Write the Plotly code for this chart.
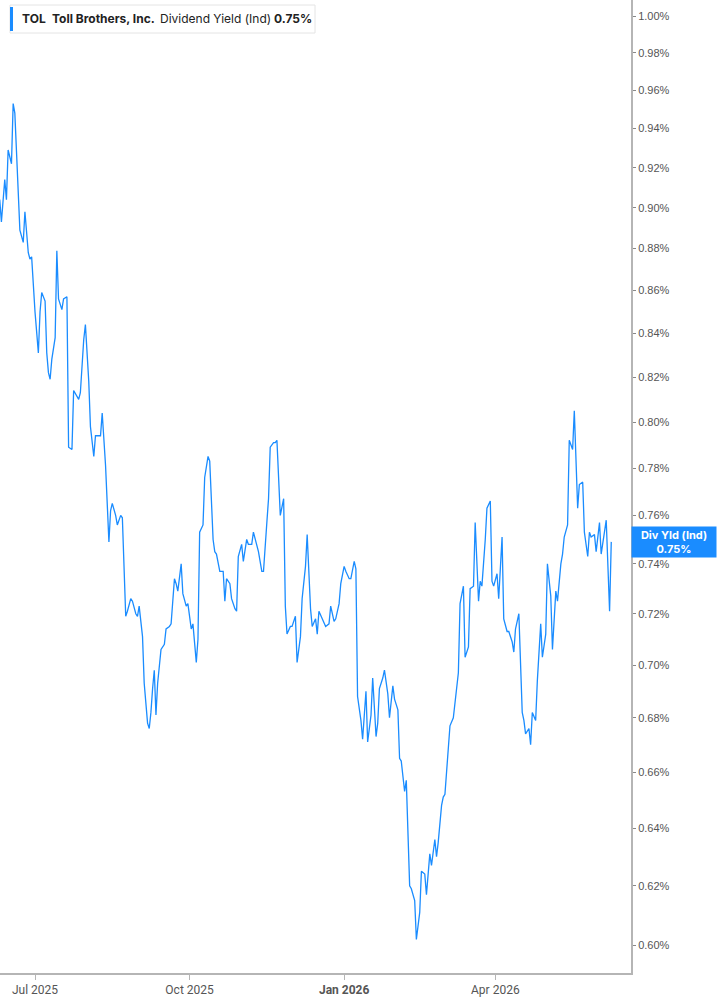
import numpy as np
import plotly.graph_objects as go

dates = [
    "2025-06-10", "2025-06-11", "2025-06-13", "2025-06-14", "2025-06-15", "2025-06-17", "2025-06-18", "2025-06-19",
    "2025-06-22", "2025-06-24", "2025-06-25", "2025-06-27", "2025-06-28", "2025-06-29",
    "2025-07-01", "2025-07-03", "2025-07-04", "2025-07-05", "2025-07-07", "2025-07-08", "2025-07-09", "2025-07-10",
    "2025-07-11", "2025-07-13", "2025-07-14", "2025-07-15", "2025-07-17", "2025-07-18", "2025-07-20", "2025-07-21",
    "2025-07-23", "2025-07-24", "2025-07-27", "2025-07-28", "2025-07-30", "2025-07-31",
    "2025-08-02", "2025-08-03", "2025-08-05", "2025-08-06", "2025-08-09", "2025-08-10", "2025-08-12", "2025-08-14",
    "2025-08-15", "2025-08-16", "2025-08-18", "2025-08-19", "2025-08-21", "2025-08-22", "2025-08-24", "2025-08-25",
    "2025-08-27", "2025-08-28", "2025-08-30", "2025-08-31",
    "2025-09-01", "2025-09-03", "2025-09-04", "2025-09-05", "2025-09-06", "2025-09-07", "2025-09-08", "2025-09-09",
    "2025-09-10", "2025-09-11", "2025-09-12", "2025-09-14", "2025-09-16", "2025-09-17", "2025-09-19", "2025-09-20",
    "2025-09-22", "2025-09-23", "2025-09-24", "2025-09-26", "2025-09-27", "2025-09-29", "2025-09-30",
    "2025-10-02", "2025-10-03", "2025-10-05", "2025-10-06", "2025-10-07", "2025-10-09", "2025-10-10", "2025-10-12",
    "2025-10-13", "2025-10-15", "2025-10-16", "2025-10-17", "2025-10-19", "2025-10-21", "2025-10-22", "2025-10-23",
    "2025-10-25", "2025-10-26", "2025-10-28", "2025-10-29", "2025-10-30",
    "2025-11-01", "2025-11-02", "2025-11-04", "2025-11-05", "2025-11-07", "2025-11-08", "2025-11-10", "2025-11-11",
    "2025-11-13", "2025-11-14", "2025-11-16", "2025-11-17", "2025-11-18", "2025-11-20", "2025-11-21", "2025-11-22",
    "2025-11-24", "2025-11-26", "2025-11-27", "2025-11-28", "2025-11-30",
    "2025-12-01", "2025-12-03", "2025-12-04", "2025-12-06", "2025-12-07", "2025-12-09", "2025-12-10", "2025-12-12",
    "2025-12-13", "2025-12-15", "2025-12-16", "2025-12-17", "2025-12-19", "2025-12-20", "2025-12-21", "2025-12-23",
    "2025-12-24", "2025-12-26", "2025-12-27", "2025-12-29", "2025-12-30",
    "2026-01-01", "2026-01-02", "2026-01-04", "2026-01-05", "2026-01-07", "2026-01-08", "2026-01-09", "2026-01-11",
    "2026-01-12", "2026-01-14", "2026-01-15", "2026-01-17", "2026-01-18", "2026-01-20", "2026-01-21", "2026-01-22",
    "2026-01-24", "2026-01-25", "2026-01-27", "2026-01-28", "2026-01-30", "2026-01-31",
    "2026-02-02", "2026-02-03", "2026-02-04", "2026-02-06", "2026-02-07", "2026-02-09", "2026-02-10", "2026-02-12",
    "2026-02-13", "2026-02-15", "2026-02-16", "2026-02-18", "2026-02-19", "2026-02-21", "2026-02-22", "2026-02-24",
    "2026-02-25", "2026-02-26", "2026-02-28",
    "2026-03-01", "2026-03-02", "2026-03-04", "2026-03-05", "2026-03-07", "2026-03-08", "2026-03-10", "2026-03-11",
    "2026-03-13", "2026-03-14", "2026-03-16", "2026-03-17", "2026-03-19", "2026-03-20", "2026-03-22", "2026-03-23",
    "2026-03-24", "2026-03-26", "2026-03-27", "2026-03-29", "2026-03-30", "2026-03-31",
    "2026-04-02", "2026-04-03", "2026-04-05", "2026-04-06", "2026-04-08", "2026-04-09", "2026-04-11", "2026-04-12",
    "2026-04-13", "2026-04-15", "2026-04-17", "2026-04-18", "2026-04-19", "2026-04-21", "2026-04-22", "2026-04-23",
    "2026-04-25", "2026-04-26", "2026-04-28", "2026-04-29",
    "2026-05-01", "2026-05-02", "2026-05-04", "2026-05-05", "2026-05-07", "2026-05-08", "2026-05-10", "2026-05-11",
    "2026-05-12", "2026-05-14", "2026-05-15", "2026-05-17", "2026-05-18", "2026-05-20", "2026-05-21", "2026-05-23",
    "2026-05-24", "2026-05-26", "2026-05-27", "2026-05-28", "2026-05-30", "2026-05-31",
    "2026-06-02", "2026-06-03", "2026-06-05", "2026-06-06", "2026-06-08", "2026-06-09",
]

div_yield = [
    0.904, 0.893, 0.914, 0.904, 0.929, 0.922, 0.953, 0.948,
    0.889, 0.883, 0.898, 0.878, 0.875, 0.876,
    0.850, 0.831, 0.850, 0.859, 0.855, 0.831, 0.822, 0.819,
    0.828, 0.838, 0.879, 0.856, 0.851, 0.856, 0.857, 0.789,
    0.788, 0.814, 0.810, 0.813, 0.837, 0.844,
    0.818, 0.798, 0.785, 0.794, 0.794, 0.804, 0.781, 0.749,
    0.762, 0.765, 0.760, 0.756, 0.760, 0.759, 0.719, 0.721,
    0.726, 0.725, 0.720, 0.719,
    0.723, 0.711, 0.693, 0.684, 0.678, 0.676, 0.682, 0.691,
    0.698, 0.681, 0.693, 0.706, 0.708, 0.714, 0.715, 0.716,
    0.734, 0.732, 0.729, 0.740, 0.728, 0.723, 0.724,
    0.714, 0.716, 0.701, 0.710, 0.753, 0.756, 0.776, 0.785,
    0.783, 0.750, 0.745, 0.744, 0.737, 0.737, 0.725, 0.734,
    0.732, 0.726, 0.722, 0.721, 0.743,
    0.748, 0.741, 0.750, 0.748, 0.748, 0.753, 0.747, 0.745,
    0.737, 0.737, 0.757, 0.767, 0.789, 0.791, 0.791, 0.792,
    0.760, 0.767, 0.723, 0.712, 0.715,
    0.715, 0.719, 0.701, 0.711, 0.726, 0.739, 0.752, 0.722,
    0.715, 0.718, 0.712, 0.721, 0.718, 0.716, 0.715, 0.716,
    0.723, 0.717, 0.718, 0.724, 0.732,
    0.739, 0.737, 0.734, 0.734, 0.741, 0.738, 0.688, 0.679,
    0.672, 0.690, 0.671, 0.681, 0.695, 0.673, 0.678, 0.691,
    0.695, 0.698, 0.689, 0.680, 0.692, 0.687,
    0.683, 0.665, 0.664, 0.653, 0.657, 0.620, 0.619, 0.615,
    0.602, 0.611, 0.625, 0.624, 0.617, 0.631, 0.627, 0.636,
    0.630, 0.635, 0.648,
    0.651, 0.652, 0.669, 0.677, 0.680, 0.686, 0.697, 0.724,
    0.731, 0.703, 0.707, 0.730, 0.731, 0.757, 0.725, 0.733,
    0.731, 0.750, 0.763, 0.766, 0.733, 0.731,
    0.736, 0.726, 0.751, 0.718, 0.713, 0.713, 0.709, 0.705,
    0.714, 0.720, 0.682, 0.679, 0.674, 0.676, 0.670, 0.682,
    0.679, 0.694, 0.716, 0.703,
    0.712, 0.740, 0.727, 0.706, 0.729, 0.725, 0.740, 0.744,
    0.751, 0.756, 0.792, 0.788, 0.805, 0.763, 0.773, 0.774,
    0.753, 0.743, 0.753, 0.751, 0.752, 0.745,
    0.757, 0.744, 0.754, 0.758, 0.721, 0.749,
]

ytick_vals = [0.60, 0.62, 0.64, 0.66, 0.68, 0.70, 0.72, 0.74, 0.76, 0.78, 0.80,
              0.82, 0.84, 0.86, 0.88, 0.90, 0.92, 0.94, 0.96, 0.98, 1.00]
xtick_vals = ["2025-07-01", "2025-10-01", "2026-01-01", "2026-04-01"]
xtick_text = ["Jul 2025", "Oct 2025", "<b>Jan 2026</b>", "Apr 2026"]

ticker = "TOL"
company = "Toll Brothers, Inc."
metric = "Dividend Yield (Ind)"
current = "0.75%"

BLUE = "#1a8cff"
AXIS = "#b5b5b5"

fig = go.Figure()
fig.add_trace(go.Scatter(
    x=dates, y=div_yield, mode="lines",
    line=dict(color=BLUE, width=1.3),
    hoverinfo="skip", showlegend=False,
))

fig.update_layout(
    width=717, height=1005,
    margin=dict(l=0, r=86, t=0, b=32),
    paper_bgcolor="white", plot_bgcolor="white",
    font=dict(family="Inter, Roboto, sans-serif", color="#555"),
    xaxis=dict(
        type="date",
        range=["2025-06-10 04:00", "2026-06-20 18:00"],
        tickvals=xtick_vals, ticktext=xtick_text,
        ticks="outside", ticklen=5, tickcolor=AXIS, tickwidth=1,
        showline=True, linecolor=AXIS, linewidth=2,
        showgrid=False, zeroline=False,
        tickfont=dict(family="Liberation Sans Narrow, Roboto, sans-serif", size=12, color="#555"),
    ),
    yaxis=dict(
        type="log", side="right",
        range=[np.log10(0.5910), np.log10(1.00883)],
        tickvals=ytick_vals, ticktext=[f"{v:.2f}%" for v in ytick_vals],
        ticks="outside", ticklen=3, tickcolor="#888", tickwidth=1,
        showline=True, linecolor=AXIS, linewidth=2,
        showgrid=False, zeroline=False,
        tickfont=dict(family="Liberation Sans, Arial, sans-serif", size=11, color="#555"),
    ),
)

# Legend-like header box
W, H = 631.0, 973.0
fig.add_shape(type="rect", xref="paper", yref="paper",
              x0=10 / W, x1=315 / W, y0=1 - 33 / H, y1=1 - 5 / H,
              line=dict(color="#e4e4e4", width=1), fillcolor="white", layer="above")
fig.add_shape(type="rect", xref="paper", yref="paper",
              x0=10 / W, x1=13 / W, y0=1 - 31 / H, y1=1 - 7 / H,
              line=dict(width=0), fillcolor=BLUE, layer="above")

hdr = [
    (20, f"<b>{ticker}</b>"),
    (50, f"<b>{company}</b>"),
    (158, metric),
    (272, f"<b>{current}</b>"),
]
for px, txt in hdr:
    fig.add_annotation(xref="paper", yref="paper", x=px / W, y=1 - 19 / H,
                       xanchor="left", yanchor="middle", text=txt, showarrow=False,
                       font=dict(family="Inter, Roboto, sans-serif", size=12, color="#222"))

# Right-side current value label
fig.add_annotation(xref="paper", yref="y", x=1.0, y=np.log10(div_yield[-1]),
                   xanchor="left", yanchor="middle",
                   text=f"<b>Div Yld (Ind)<br>{current}</b>", showarrow=False,
                   bgcolor=BLUE, borderpad=1, width=82, align="center",
                   font=dict(family="Inter, Roboto, sans-serif", size=11, color="white"))

fig.write_html("out.html",
               config={"displayModeBar": False},
               post_script="document.body.style.margin='0';document.body.style.padding='0';")
